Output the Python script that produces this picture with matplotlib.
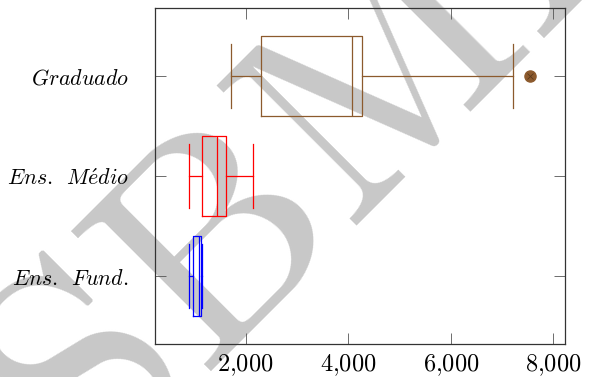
import matplotlib.pyplot as plt
from matplotlib.ticker import FuncFormatter

plt.rcParams['mathtext.fontset'] = 'cm'
plt.rcParams['font.family'] = 'DejaVu Serif'

# Categories, bottom to top
labels = [r'$\mathit{Ens.\ \,Fund.}$', r'$\mathit{Ens.\ \,M\acute{e}dio}$', r'$\mathit{Graduado}$']
colors = ['#0000ff', '#ff0000', '#8c5a2d']

# Box statistics
lower_whisker = [900, 894, 1713]
lower_quartile = [972, 1153, 2292]
median = [1088, 1434, 4068]
upper_quartile = [1122, 1610, 4270]
upper_whisker = [1153, 2137, 7222]
outliers = [[], [], [7553]]

xticks = [2000, 4000, 6000, 8000]

fig = plt.figure(figsize=(5.9, 3.77), dpi=100)
ax = fig.add_axes([0.2627, 0.0875, 0.695, 0.8905])
ax.set_facecolor('none')

# Watermark behind the plot
fig.text(0.146, -0.273, 'SBMAC', fontsize=209, color='#c8c8c8', rotation=45,
         rotation_mode='anchor', ha='left', va='baseline', family='cmr10', zorder=-1)

for i in range(3):
    stats = [{
        'whislo': lower_whisker[i], 'q1': lower_quartile[i], 'med': median[i],
        'q3': upper_quartile[i], 'whishi': upper_whisker[i], 'fliers': outliers[i],
    }]
    c = colors[i]
    ax.bxp(stats, positions=[i + 1], widths=0.8, capwidths=0.64, orientation='horizontal',
           boxprops=dict(color=c, linewidth=0.9),
           medianprops=dict(color=c, linewidth=0.9),
           whiskerprops=dict(color=c, linewidth=0.9),
           capprops=dict(color=c, linewidth=0.9),
           flierprops=dict(marker='o', markerfacecolor=c, markeredgecolor=c, markersize=8))
    if outliers[i]:
        ax.plot(outliers[i], [i + 1] * len(outliers[i]), linestyle='none', marker='x',
                color='#5a3a1c', markersize=5, markeredgewidth=0.6)

ax.set_xlim(230, 8230)
ax.set_ylim(0.32, 3.68)
ax.set_yticks([1, 2, 3])
ax.set_yticklabels(labels)
ax.set_xticks(xticks)
ax.xaxis.set_major_formatter(FuncFormatter(lambda v, p: r'$%d{,}%03d$' % (v // 1000, v % 1000)))

ax.tick_params(direction='in', length=8, width=0.6, color='#555555', top=True, right=True)
ax.tick_params(axis='x', labelsize=17.5, pad=6)
ax.tick_params(axis='y', labelsize=15.8, pad=19)
for s in ax.spines.values():
    s.set_linewidth(0.9)
    s.set_color('#333333')

plt.savefig('out.png', dpi=100)
